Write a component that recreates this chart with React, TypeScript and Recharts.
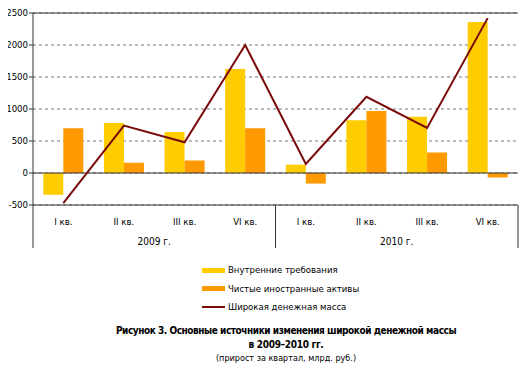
import { ComposedChart, Bar, Line, XAxis, YAxis, CartesianGrid, ReferenceLine } from "recharts";

const quarters = ["I кв.", "II кв.", "III кв.", "VI кв.", "I кв.", "II кв.", "III кв.", "VI кв."];
const years = ["2009 г.", "2009 г.", "2009 г.", "2009 г.", "2010 г.", "2010 г.", "2010 г.", "2010 г."];
const domestic = [-340, 780, 640, 1625, 130, 826, 878, 2360];
const foreignAssets = [700, 160, 195, 700, -165, 970, 320, -70];
const broadMoney = [-470, 740, 480, 2000, 140, 1190, 705, 2420];
const yTicks = [-500, 0, 500, 1000, 1500, 2000, 2500];

const seriesNames = ["Внутренние требования", "Чистые иностранные активы", "Широкая денежная масса"];
const colors = ["#FFCC00", "#FF9900", "#7A0A0A"];

const data = quarters.map((q, i) => ({
  q,
  year: years[i],
  domestic: domestic[i],
  foreign: foreignAssets[i],
  broad: broadMoney[i],
}));

const FONT = "'DejaVu Sans', sans-serif";
const tickStyle = { fontSize: 9.5, fill: "#000", fontFamily: FONT, style: { fontStretch: "condensed" } } as any;

const YearTick = (props: any) => {
  const { x, y, payload } = props;
  const half = payload?.offset ?? 0;
  return (
    <g>
      <line x1={x - half} x2={x - half} y1={y - 25} y2={y + 18} stroke="#333" />
      <line x1={x + half} x2={x + half} y1={y - 25} y2={y + 18} stroke="#333" />
      <text x={x} y={y + 15} textAnchor="middle" fill="#000" fontSize={10} fontFamily={FONT} style={{ fontStretch: "condensed" }}>
        {payload.value}
      </text>
    </g>
  );
};

const App = () => {
  return (
    <div
      style={{
        position: "relative",
        width: 528,
        height: 375,
        margin: -8,
        background: "#fff",
        fontFamily: FONT,
        fontStretch: "condensed",
      }}
    >
      <div style={{ position: "absolute", left: 0, top: 0 }}>
        <ComposedChart
          width={528}
          height={255}
          data={data}
          margin={{ top: 13, right: 10, left: 0, bottom: 3 }}
          barCategoryGap="17%"
          barGap={0}
        >
          <CartesianGrid vertical={false} stroke="#777" strokeDasharray="3 3" />
          <XAxis
            xAxisId="q"
            dataKey="q"
            height={25}
            tickLine={false}
            tickSize={0}
            tickMargin={13}
            axisLine={{ stroke: "#333" }}
            tick={tickStyle}
            interval={0}
          />
          <XAxis
            xAxisId="year"
            dataKey="year"
            allowDuplicatedCategory={false}
            height={22}
            axisLine={false}
            tickLine={false}
            tickSize={0}
            tickMargin={0}
            tick={<YearTick />}
            interval={0}
          />
          <YAxis
            domain={[-500, 2500]}
            ticks={yTicks}
            width={33}
            tickSize={4}
            tickMargin={1}
            axisLine={{ stroke: "#333" }}
            tickLine={{ stroke: "#333" }}
            tick={tickStyle}
            interval={0}
          />
          <YAxis yAxisId="right" orientation="right" width={0} domain={[-500, 2500]} tick={false} tickLine={false} axisLine={{ stroke: "#333" }} />
          <ReferenceLine xAxisId="q" y={0} stroke="#333" />
          <ReferenceLine xAxisId="q" y={2500} stroke="#333" />
          <Bar xAxisId="q" dataKey="domestic" fill={colors[0]} isAnimationActive={false} />
          <Bar xAxisId="q" dataKey="foreign" fill={colors[1]} isAnimationActive={false} />
          <Line xAxisId="q" dataKey="broad" stroke={colors[2]} strokeWidth={2} dot={false} type="linear" isAnimationActive={false} />
        </ComposedChart>
      </div>

      <div style={{ position: "absolute", left: 202, top: 261, fontSize: 9.5, lineHeight: "18.5px", color: "#000" }}>
        {seriesNames.map((name, i) => (
          <div key={name} style={{ display: "flex", alignItems: "center", height: 18.5 }}>
            <span
              style={{
                display: "inline-block",
                width: 23,
                height: i < 2 ? 5 : 2,
                background: colors[i],
                marginRight: 3,
              }}
            />
            <span>{name}</span>
          </div>
        ))}
      </div>

      <div style={{ position: "absolute", left: 40, top: 324, width: 492, textAlign: "center", color: "#000", whiteSpace: "nowrap" }}>
        <div style={{ fontWeight: "bold", fontSize: 10, lineHeight: "14px", letterSpacing: "-0.45px" }}>
          Рисунок 3. Основные источники изменения широкой денежной массы
        </div>
        <div style={{ fontWeight: "bold", fontSize: 10, lineHeight: "13px", letterSpacing: "-0.3px" }}>в 2009–2010 гг.</div>
        <div style={{ fontSize: 9, lineHeight: "14px" }}>(прирост за квартал, млрд. руб.)</div>
      </div>
    </div>
  );
};

export default App;
